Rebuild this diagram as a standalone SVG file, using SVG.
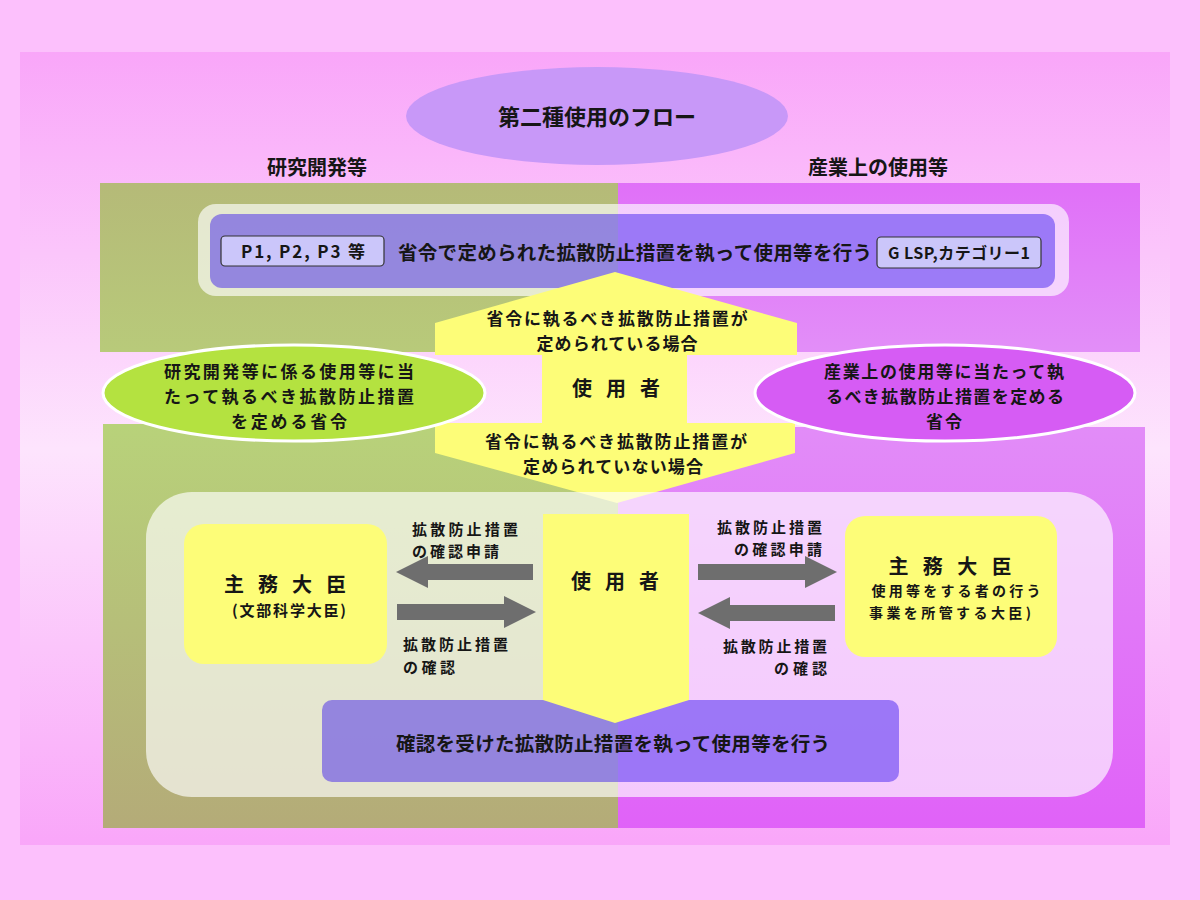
<svg xmlns="http://www.w3.org/2000/svg" width="1200" height="900" viewBox="0 0 1200 900">
<defs>
<linearGradient id="panelG" x1="0" y1="0" x2="0" y2="1">
<stop offset="0" stop-color="#f9a6f9"/>
<stop offset="0.5" stop-color="#fde4fd"/>
<stop offset="1" stop-color="#f9a6f9"/>
</linearGradient>
<linearGradient id="ltG" x1="0" y1="0" x2="0" y2="1">
<stop offset="0" stop-color="#b5ba78"/>
<stop offset="1" stop-color="#b8ca7a"/>
</linearGradient>
<linearGradient id="lbG" x1="0" y1="0" x2="0" y2="1">
<stop offset="0" stop-color="#b8d27a"/>
<stop offset="1" stop-color="#b4ab78"/>
</linearGradient>
<linearGradient id="rtG" x1="0" y1="0" x2="0" y2="1">
<stop offset="0" stop-color="#e070f8"/>
<stop offset="1" stop-color="#e28ef8"/>
</linearGradient>
<linearGradient id="rbG" x1="0" y1="0" x2="0" y2="1">
<stop offset="0" stop-color="#e28cf8"/>
<stop offset="1" stop-color="#e062f8"/>
</linearGradient>
</defs>
<style>
text{font-family:"Noto Sans CJK JP","Noto Sans CJK SC",sans-serif;font-weight:bold;fill:#161616}
.c{text-anchor:middle}
.e{text-anchor:end}
.veil{fill:#ffffff;fill-opacity:0.65}
.band{fill:#3010f0;fill-opacity:0.45}
.yel{fill:#fdfd78}
.tag{fill:#cbc6fa;stroke:#333;stroke-width:1.2}
.arr{fill:#6e6e6e}
.oval{stroke:#ffffff;stroke-width:3}
.lbl{font-size:15px}
</style>
<rect x="0" y="0" width="1200" height="900" fill="#fcc0fc"/>
<rect x="20" y="52" width="1150" height="793" fill="url(#panelG)"/>

<g id="regions">
<rect x="100" y="183" width="518" height="169" fill="url(#ltG)"/>
<rect x="618" y="183" width="522" height="169" fill="url(#rtG)"/>
<rect x="103" y="424" width="515" height="404" fill="url(#lbG)"/>
<rect x="618" y="427" width="527" height="401" fill="url(#rbG)"/>
</g>

<g id="title">
<ellipse cx="597" cy="116" rx="191" ry="49" fill="#c898f8"/>
<text class="c" x="597" y="125" font-size="22">第二種使用のフロー</text>
</g>
<g id="label-research"><text class="c" x="317" y="175" font-size="20">研究開発等</text></g>
<g id="label-industry"><text class="c" x="878" y="175" font-size="20">産業上の使用等</text></g>

<g id="top-flow">
<rect class="veil" x="198" y="204" width="871" height="92" rx="18"/>
<rect class="band" x="210" y="214" width="845" height="74" rx="12"/>
<rect class="tag" x="221" y="236" width="163" height="30" rx="4"/>
<text class="c" x="303" y="258" font-size="17" textLength="124" lengthAdjust="spacing">P1, P2, P3 等</text>
<text class="c" x="635" y="259.5" font-size="19.5" textLength="474" lengthAdjust="spacing">省令で定められた拡散防止措置を執って使用等を行う</text>
<rect class="tag" x="877" y="237" width="164" height="31" rx="4"/>
<text class="c" x="959" y="259" font-size="16" textLength="142" lengthAdjust="spacing">G LSP,カテゴリー1</text>
</g>

<g id="user-decision">
<polygon class="yel" points="615,272 797,323 797,355 687,355 687,423 795,423 795,453 617,503 435,453 435,423 542,423 542,355 435,355 435,323"/>
<text class="c" x="617" y="324.5" font-size="17" textLength="261" lengthAdjust="spacing">省令に執るべき拡散防止措置が</text>
<text class="c" x="617" y="349.5" font-size="17" textLength="161" lengthAdjust="spacing">定められている場合</text>
<text class="c" x="616" y="395.5" font-size="20" textLength="88" lengthAdjust="spacing">使 用 者</text>
<text class="c" x="616" y="447.5" font-size="17" textLength="262" lengthAdjust="spacing">省令に執るべき拡散防止措置が</text>
<text class="c" x="613" y="472.5" font-size="17" textLength="180" lengthAdjust="spacing">定められていない場合</text>
</g>

<g id="ordinance-research">
<ellipse class="oval" cx="294" cy="393" rx="191" ry="48" fill="#b4e240"/>
<text class="c" x="289" y="377.5" font-size="17" textLength="250" lengthAdjust="spacing">研究開発等に係る使用等に当</text>
<text class="c" x="289" y="402.5" font-size="17" textLength="250" lengthAdjust="spacing">たって執るべき拡散防止措置</text>
<text class="c" x="289" y="427.5" font-size="17" textLength="116" lengthAdjust="spacing">を定める省令</text>
</g>

<g id="ordinance-industry">
<ellipse class="oval" cx="945" cy="393" rx="190" ry="48" fill="#d65cf4"/>
<text class="c" x="944" y="377.5" font-size="17" textLength="240" lengthAdjust="spacing">産業上の使用等に当たって執</text>
<text class="c" x="945" y="402.5" font-size="17" textLength="238" lengthAdjust="spacing">るべき拡散防止措置を定める</text>
<text class="c" x="944" y="427.5" font-size="17" textLength="36" lengthAdjust="spacing">省令</text>
</g>

<g id="confirm-area">
<rect class="veil" x="146" y="492" width="967" height="305" rx="46"/>
</g>

<g id="final-use">
<rect class="band" x="322" y="700" width="577" height="82" rx="10"/>
<text class="c" x="613" y="750.5" font-size="19.5" textLength="434" lengthAdjust="spacing">確認を受けた拡散防止措置を執って使用等を行う</text>
</g>

<g id="user-confirm">
<polygon class="yel" points="543,514 689,514 689,700 615,723 543,700"/>
<text class="c" x="615" y="588.5" font-size="20" textLength="88" lengthAdjust="spacing">使 用 者</text>
</g>

<g id="minister-mext">
<rect class="yel" x="184" y="524" width="203" height="140" rx="20"/>
<text class="c" x="285" y="592" font-size="20" textLength="122" lengthAdjust="spacing">主 務 大 臣</text>
<text class="c" x="289" y="616" font-size="15" textLength="114" lengthAdjust="spacing">(文部科学大臣)</text>
</g>

<g id="minister-industry">
<rect class="yel" x="845" y="516" width="212" height="141" rx="20"/>
<text class="c" x="950" y="573.5" font-size="20" textLength="123" lengthAdjust="spacing">主 務 大 臣</text>
<text class="c" x="956" y="596" font-size="14" textLength="169" lengthAdjust="spacing">使用等をする者の行う</text>
<text class="c" x="950" y="617.5" font-size="14" textLength="162" lengthAdjust="spacing">事業を所管する大臣)</text>
</g>

<g id="connectors">
<path class="arr" d="M396,572 L428,556 L428,564 L533,564 L533,580 L428,580 L428,588 Z"/>
<path class="arr" d="M536,612 L504,596 L504,604 L397,604 L397,620 L504,620 L504,628 Z"/>
<path class="arr" d="M837,572 L805,556 L805,564 L698,564 L698,580 L805,580 L805,588 Z"/>
<path class="arr" d="M698,613 L730,597 L730,605 L835,605 L835,621 L730,621 L730,629 Z"/>
<text class="lbl" x="412" y="534.7" textLength="106" lengthAdjust="spacing">拡散防止措置</text>
<text class="lbl" x="412" y="556.7" textLength="87" lengthAdjust="spacing">の確認申請</text>
<text class="lbl" x="403" y="649.7" textLength="105" lengthAdjust="spacing">拡散防止措置</text>
<text class="lbl" x="403" y="672.7" textLength="52" lengthAdjust="spacing">の確認</text>
<text class="lbl e" x="822" y="532.7" textLength="105" lengthAdjust="spacing">拡散防止措置</text>
<text class="lbl e" x="822" y="554.7" textLength="88" lengthAdjust="spacing">の確認申請</text>
<text class="lbl e" x="827" y="651.7" textLength="104" lengthAdjust="spacing">拡散防止措置</text>
<text class="lbl e" x="827" y="673.7" textLength="53" lengthAdjust="spacing">の確認</text>
</g>
</svg>
